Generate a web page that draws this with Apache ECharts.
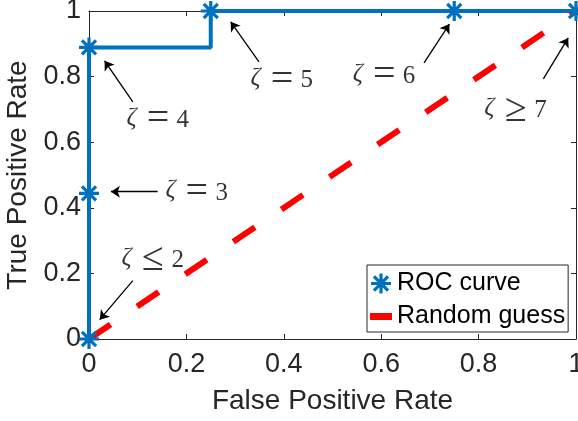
<!DOCTYPE html>
<html>
<head>
<meta charset="utf-8">
<title>ROC curve</title>
<script src="https://cdn.jsdelivr.net/npm/echarts@6/dist/echarts.min.js"></script>
<style>
  html, body { margin: 0; padding: 0; background: #fff; }
  #chart { width: 578px; height: 421px; }
</style>
</head>
<body>
<div id="chart"></div>
<script>
  // ROC curve points (false positive rate, true positive rate)
  const rocFpr = [0, 0, 0, 0.25, 0.75, 1];
  const rocTpr = [0, 0.444, 0.889, 1, 1, 1];
  // diagonal "random guess" line
  const guessFpr = [0, 1];
  const guessTpr = [0, 1];

  // threshold annotations: text + where the text sits, arrow tail -> head (data units)
  const noteOp = ["\u2264", "=", "=", "=", "=", "\u2265"];
  const noteNum = ["2", "3", "4", "5", "6", "7"];
  const noteX = [0.131, 0.221, 0.141, 0.396, 0.606, 0.876];
  const noteY = [0.247, 0.452, 0.674, 0.795, 0.808, 0.704];
  const arrowFromX = [0.090, 0.141, 0.090, 0.349, 0.688, 0.933];
  const arrowFromY = [0.178, 0.449, 0.723, 0.845, 0.842, 0.793];
  const arrowToX = [0.022, 0.045, 0.032, 0.291, 0.740, 0.984];
  const arrowToY = [0.059, 0.449, 0.848, 0.967, 0.960, 0.918];

  const BLUE = "#0072BD";
  const RED = "#FF0000";
  const AXIS = "#262626";
  const SANS = "Liberation Sans, Arial, sans-serif";
  const SERIF = "Liberation Serif, serif";

  // MATLAB-like '*' marker, all sub-paths wound the same way
  const ASTERISK = "path://M-1.6,-10L1.6,-10L1.6,10L-1.6,10Z" +
    "M-10,-1.6L10,-1.6L10,1.6L-10,1.6Z" +
    "M-8.2,-5.9L-5.9,-8.2L8.2,5.9L5.9,8.2Z" +
    "M-5.9,8.2L-8.2,5.9L5.9,-8.2L8.2,-5.9Z";
  const BAR = "path://M0,0L22,0L22,7L0,7Z";

  const chart = echarts.init(document.getElementById("chart"));

  function pairs(xs, ys) {
    return xs.map((x, i) => [x, ys[i]]);
  }

  const axisCommon = {
    type: "value",
    min: 0,
    max: 1,
    interval: 0.2,
    splitLine: { show: false },
    axisLine: { show: true, onZero: false, lineStyle: { color: AXIS, width: 1 } },
    axisTick: { show: true, inside: true, length: 5, lineStyle: { color: AXIS } },
  };
  const labelFont = { color: AXIS, fontSize: 27, fontFamily: SANS };
  const nameFont = { color: AXIS, fontSize: 28, fontFamily: SANS };

  // LaTeX-ish look: italic zeta, wide relation sign, upright digit
  const noteRich = {
    z: { fontFamily: SERIF, fontStyle: "italic", fontSize: 25, color: "#000", width: 17, align: "left" },
    o: { fontFamily: SERIF, fontSize: 40, color: "#000", width: 29, align: "center", padding: [4, 0, 0, 0] },
    n: { fontFamily: SERIF, fontSize: 25, color: "#000", padding: [5, 0, 0, 4] },
  };

  const noteData = noteX.map((x, i) => ({
    value: [x, noteY[i]],
    label: {
      show: true,
      position: "inside",
      formatter: "{z|\u03b6}{o|" + noteOp[i] + "}{n|" + noteNum[i] + "}",
      rich: noteRich,
    },
  }));
  const arrowData = arrowFromX.map((x, i) => [
    { coord: [x, arrowFromY[i]] },
    { coord: [arrowToX[i], arrowToY[i]] },
  ]);

  chart.setOption({
    animation: false,
    backgroundColor: "#fff",
    grid: { left: 89, right: 2, top: 11, bottom: 82, outerBoundsMode: "none" },
    xAxis: [
      Object.assign({}, axisCommon, {
        position: "bottom",
        name: "False Positive Rate",
        nameLocation: "middle",
        nameGap: 48,
        nameTextStyle: nameFont,
        axisLabel: Object.assign({ margin: 12 }, labelFont),
      }),
      Object.assign({}, axisCommon, { position: "top", axisLabel: { show: false } }),
    ],
    yAxis: [
      Object.assign({}, axisCommon, {
        position: "left",
        name: "True Positive Rate",
        nameLocation: "middle",
        nameGap: 52,
        nameTextStyle: nameFont,
        axisLabel: Object.assign({ margin: 8 }, labelFont),
      }),
      Object.assign({}, axisCommon, { position: "right", axisLabel: { show: false } }),
    ],
    legend: {
      orient: "vertical",
      left: 367,
      top: 265,
      padding: [6, 3, 3, 3],
      itemGap: 8,
      itemWidth: 22,
      itemHeight: 20,
      backgroundColor: "#fff",
      borderColor: AXIS,
      borderWidth: 1,
      borderRadius: 0,
      textStyle: { color: "#000", fontSize: 25, fontFamily: SANS },
      data: [
        { name: "ROC curve", icon: ASTERISK },
        { name: "Random guess", icon: BAR },
      ],
    },
    series: [
      {
        name: "ROC curve",
        type: "line",
        step: "end",
        clip: false,
        data: pairs(rocFpr, rocTpr),
        symbol: ASTERISK,
        symbolSize: 20,
        showAllSymbol: true,
        lineStyle: { color: BLUE, width: 4 },
        itemStyle: { color: BLUE },
      },
      {
        name: "Random guess",
        type: "line",
        clip: false,
        data: pairs(guessFpr, guessTpr),
        symbol: "none",
        lineStyle: { color: RED, width: 6, type: [26, 32], cap: "butt" },
        itemStyle: { color: RED },
      },
      {
        name: "notes",
        type: "scatter",
        silent: true,
        symbol: "circle",
        symbolSize: 1,
        itemStyle: { color: "rgba(0,0,0,0)" },
        data: noteData,
        label: { show: true, position: "inside", color: "#000" },
        markLine: {
          silent: true,
          symbol: ["none", "arrow"],
          symbolSize: 9,
          label: { show: false },
          lineStyle: { color: "#000", width: 1.3, type: "solid" },
          emphasis: { disabled: true },
          data: arrowData,
        },
        z: 5,
      },
    ],
  });
</script>
</body>
</html>
